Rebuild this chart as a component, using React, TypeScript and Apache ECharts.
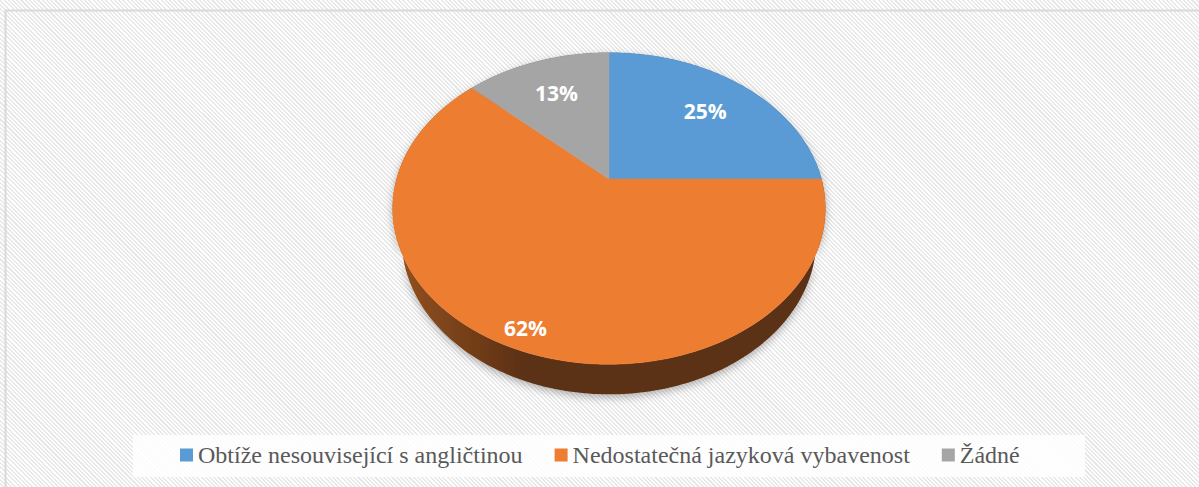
import React, { useEffect, useRef } from "react";
import * as echarts from "echarts";

const categories = [
  "Obtíže nesouvisející s angličtinou",
  "Nedostatečná jazyková vybavenost",
  "Žádné",
];
const values = [25, 62, 13];
const colors = ["#5B9BD5", "#ED7D31", "#A5A5A5"];
const wallColors = [
  ["#3f6f99", "#2c5071"],
  ["#95521f", "#5c3114"],
  ["#7a7a7a", "#555555"],
];
const labelRadius = [0.7, 0.9, 0.7];

// projection constants (3D perspective look)
const CX = 609;
const CY = 179;
const ALPHA = (45 * Math.PI) / 180;
const DIST = 3.738;
const FOCAL = 794;
const THICK = 0.223;

function proj(theta: number, r: number, y: number): number[] {
  const X = r * Math.sin(theta);
  const Z = r * Math.cos(theta);
  const depth = DIST + Z * Math.cos(ALPHA) - y * Math.sin(ALPHA);
  const up = y * Math.cos(ALPHA) + Z * Math.sin(ALPHA);
  return [CX + (FOCAL * X) / depth, CY - (FOCAL * up) / depth];
}

const total = values.reduce((a, b) => a + b, 0);

function sliceAngles(i: number) {
  let before = 0;
  for (let k = 0; k < i; k++) before += values[k];
  const start = (before / total) * Math.PI * 2;
  const end = ((before + values[i]) / total) * Math.PI * 2;
  return [start, end];
}

function makeRenderItem(i: number) {
  return (params: any, api: any) => {
    const v = api.value(0);
    const [start, end] = sliceAngles(i);
    const steps = Math.max(4, Math.ceil(((end - start) * 180) / Math.PI));
    const topArc: number[][] = [];
    const botArc: number[][] = [];
    for (let s = 0; s <= steps; s++) {
      const t = start + ((end - start) * s) / steps;
      topArc.push(proj(t, 1, 0));
      botArc.push(proj(t, 1, -THICK));
    }
    const topFace = [proj(0, 0, 0)].concat(topArc);
    const wall = topArc.concat(botArc.slice().reverse());
    const mid = (start + end) / 2;
    const lp = proj(mid, labelRadius[i], 0);
    const pct = Math.round((v / total) * 100) + "%";
    return {
      type: "group",
      children: [
        {
          type: "polygon",
          z2: 0,
          shape: { points: wall },
          style: {
            fill: new echarts.graphic.LinearGradient(0, 0, 1, 0, [
              { offset: 0, color: wallColors[i][0] },
              { offset: 0.3, color: wallColors[i][1] },
              { offset: 1, color: wallColors[i][1] },
            ]),
            shadowBlur: 8,
            shadowOffsetY: 3,
            shadowColor: "rgba(0,0,0,0.3)",
          },
        },
        {
          type: "polygon",
          z2: 10,
          shape: { points: topFace },
          style: { fill: colors[i], stroke: colors[i], lineWidth: 0.5 },
        },
        {
          type: "text",
          z2: 20,
          x: lp[0],
          y: lp[1],
          style: {
            text: pct,
            fill: "#ffffff",
            font: "bold 21px 'Open Sans', sans-serif",
            align: "center",
            verticalAlign: "middle",
            textAlign: "center",
            textVerticalAlign: "middle",
          },
        },
      ],
    };
  };
}

export default function App() {
  const ref = useRef<HTMLDivElement>(null);
  useEffect(() => {
    if (!ref.current) return;
    const chart = echarts.init(ref.current, null, { renderer: "svg" });
    chart.setOption({
      animation: false,
      graphic: [
        {
          type: "rect",
          z: 0,
          shape: { x: 5.5, y: 10.5, width: 1300, height: 600 },
          style: { fill: "none", stroke: "#d9d9d9", lineWidth: 2 },
        },
        {
          type: "rect",
          z: 0,
          shape: { x: 133, y: 435, width: 952, height: 42 },
          style: { fill: "rgba(255,255,255,0.85)" },
        },
      ],
      legend: {
        left: 180,
        top: 443,
        padding: 0,
        icon: "rect",
        itemWidth: 13,
        itemHeight: 13,
        itemGap: 32,
        textStyle: {
          fontFamily: "'Liberation Serif', serif",
          fontSize: 24,
          color: "#595959",
        },
        data: categories,
      },
      series: categories.map((name, i) => ({
        type: "custom",
        name,
        coordinateSystem: "none",
        itemStyle: { color: colors[i] },
        data: [values[i]],
        renderItem: makeRenderItem(i),
      })),
    });
    return () => chart.dispose();
  }, []);
  return (
    <div
      ref={ref}
      style={{
        position: "absolute",
        left: 0,
        top: 0,
        width: 1199,
        height: 487,
        background:
          "repeating-linear-gradient(45deg, #ffffff 0px, #ffffff 1.5px, #e8e8e8 1.5px, #e8e8e8 3px)",
      }}
    />
  );
}
